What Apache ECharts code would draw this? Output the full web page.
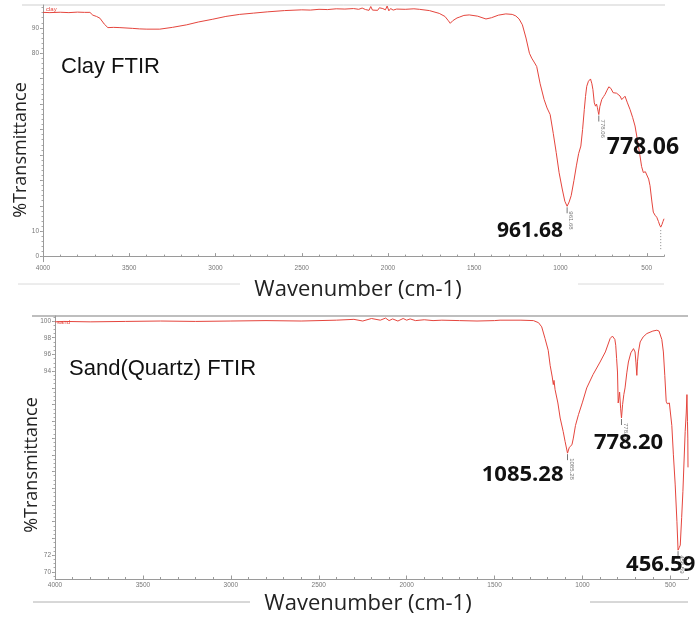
<!DOCTYPE html>
<html>
<head>
<meta charset="utf-8">
<title>FTIR spectra – Clay and Sand(Quartz)</title>
<script src="https://cdn.jsdelivr.net/npm/echarts@6/dist/echarts.min.js"></script>
<style>
  html, body { margin: 0; padding: 0; background: #ffffff; }
  #chart { width: 700px; height: 623px; }
</style>
</head>
<body>
<div id="chart"></div>
<script>
// ---- Clay spectrum (wavenumber in cm-1, %T) ----
const clayWavenumber = [
  4000, 3960, 3900, 3850, 3800, 3760, 3728, 3711, 3690, 3670, 3645, 3624, 3590, 3554, 3480, 3440, 3398, 3323,
  3250, 3167, 3100, 3016, 2940, 2860, 2780, 2700, 2600, 2500, 2450, 2400, 2350, 2300, 2250, 2200, 2170, 2150,
  2130, 2120, 2110, 2100, 2090, 2080, 2060, 2050, 2040, 2030, 2015, 2005, 1995, 1985, 1970, 1950, 1900, 1850,
  1818, 1760, 1703, 1670, 1650, 1639, 1625, 1600, 1587, 1560, 1529, 1480, 1432, 1400, 1360, 1317, 1280, 1259,
  1240, 1221, 1200, 1180, 1167, 1150, 1138, 1118, 1095, 1078, 1060, 1042, 1025, 1008, 990, 975, 961.68, 950,
  938, 922, 908, 895, 882, 872, 862, 855, 848, 838, 826, 818, 812, 804, 797, 791, 786, 782, 778.06, 772, 761,
  750, 742, 730, 720, 713, 708, 703, 695, 684, 675, 665, 655, 645, 636, 626, 612, 597, 582, 568, 553, 539, 530,
  520, 508, 497, 489, 481, 470, 462, 452, 442, 432, 425, 419, 412, 406, 400
];
const clayTransmittance = [
  96.1, 96.0, 96.15, 96.0, 96.2, 96.1, 96.1, 95.0, 94.5, 93.8, 91.5, 90.1, 90.2, 90.1, 89.8, 89.6, 89.5, 89.5,
  90.2, 91.2, 92.3, 93.4, 94.5, 95.3, 95.8, 96.3, 96.8, 97.1, 97.0, 97.3, 97.2, 97.5, 97.4, 97.6, 97.3, 97.8,
  97.2, 97.9, 96.9, 98.4, 97.0, 97.7, 96.9, 97.9, 97.3, 97.6, 97.1, 98.6, 96.7, 97.6, 97.0, 97.4, 97.3, 97.5,
  97.3, 96.8, 95.7, 94.5, 92.8, 91.8, 92.8, 93.9, 94.2, 94.9, 95.1, 94.6, 93.5, 94.0, 95.0, 95.5, 95.3, 94.7,
  93.5, 91.2, 86.0, 80.0, 78.1, 76.2, 74.8, 68.0, 61.8, 58.5, 55.9, 48.5, 41.0, 33.0, 26.6, 21.8, 19.8, 21.5,
  24.0, 30.0, 35.7, 40.5, 43.5, 50.0, 57.9, 63.0, 67.0, 69.0, 69.9, 68.0, 65.7, 60.5, 59.2, 60.0, 58.6, 57.2, 55.9, 59.0, 61.8,
  63.0, 63.8, 65.5, 66.8, 67.3, 66.2, 65.7, 64.5, 63.8, 64.3, 64.7, 63.2, 61.8, 62.5, 63.1, 60.5, 57.9, 54.8, 51.4, 45.5, 39.6, 35.5,
  33.1, 33.4, 33.1, 30.5, 27.9, 21.5, 17.5, 16.3, 15.5, 13.8, 12.4, 11.6, 12.6, 13.8, 14.9
];
const clayPeakWavenumber = [961.68, 778.06, 419];
const clayPeakTransmittance = [19.8, 55.9, 11.6];
const clayPeakText = ['961.68', '778.06', ''];

// ---- Sand (quartz) spectrum ----
const sandWavenumber = [
  4000, 3950, 3800, 3600, 3400, 3200, 3000, 2800, 2600, 2400, 2300, 2250, 2200, 2150, 2120, 2100, 2080, 2050,
  2020, 2000, 1980, 1950, 1900, 1850, 1800, 1700, 1600, 1500, 1469, 1350, 1279, 1250, 1232, 1213, 1195, 1184,
  1172, 1166, 1162, 1156, 1140, 1127, 1110, 1099, 1085.28, 1075, 1067, 1060, 1052, 1040, 1023, 1000, 976, 940,
  900, 870, 843, 830, 824, 816, 811, 806, 801, 797, 793, 789, 783, 778.20, 772, 765, 758, 748, 739, 725, 710,
  701, 696, 691, 687, 682, 672, 655, 634, 600, 577, 565, 558, 549, 540, 532, 524, 518, 511, 506, 501, 492, 483,
  473, 463, 456.59, 450, 444, 436, 429, 422, 416, 410, 406, 403, 401, 400
];
const sandTransmittance = [
  99.9, 99.95, 99.9, 99.95, 100.0, 99.95, 100.0, 100.05, 100.0, 100.1, 100.2, 100.0, 100.3, 100.1, 100.35, 100.05, 100.25, 100.0,
  100.3, 100.1, 100.25, 100.05, 100.15, 100.05, 100.1, 100.05, 100.0, 100.05, 100.1, 100.1, 100.05, 99.8, 99.3, 97.9, 96.5, 94.7,
  93.3, 92.4, 92.9, 91.8, 90.2, 88.4, 86.8, 85.6, 84.2, 84.9, 85.0, 85.2, 86.0, 87.5, 88.8, 90.3, 92.0, 93.6,
  95.1, 96.3, 97.9, 98.2, 98.3, 97.8, 97.1, 95.5, 93.9, 90.2, 90.8, 91.5, 89.5, 88.4, 90.0, 91.2, 92.0, 93.8, 95.1, 96.2, 96.7,
  96.3, 95.0, 93.5, 95.2, 96.3, 97.5, 98.1, 98.5, 98.8, 98.9, 98.8, 98.7, 97.8, 96.3, 93.5, 90.4, 90.1, 90.0, 90.2, 90.0, 87.5, 84.0,
  80.5, 76.0, 72.6, 72.9, 73.2, 76.5, 79.6, 83.5, 86.8, 89.0, 91.2, 88.0, 86.0, 82.5
];
const sandPeakWavenumber = [1085.28, 778.20, 456.59];
const sandPeakTransmittance = [84.2, 88.4, 72.6];
const sandPeakText = ['1085.28', '778.20', '456.59'];

// ---- Axis ticks and labels ----
const xTickLabels = [4000, 3500, 3000, 2500, 2000, 1500, 1000, 500];
const xMinorTicks = [];
for (let v = 400; v <= 4000; v += 100) xMinorTicks.push(v);
const clayYLabels = [0, 10, 80, 90];
const clayYMajor = [0, 10, 20, 30, 40, 50, 60, 70, 80, 90];
const clayYMinor = [];
for (let v = 0; v <= 98; v += 2) clayYMinor.push(v);
const sandYLabels = [70, 72, 94, 96, 98, 100];
const sandYMajor = [];
for (let v = 70; v <= 100; v += 2) sandYMajor.push(v);
const sandYMinor = [];
for (let v = 69.5; v <= 100.5; v += 0.5) sandYMinor.push(v);

// ---- Styling ----
const LINE_RED = '#e5453d';
const AXIS_GREY = '#9a9a9a';
const TICK_FONT = { fontSize: 6.5, color: '#777', fontFamily: 'Liberation Sans', formatter: (v) => String(v) };

// annotation placement for each marked peak (pixel offsets from the band minimum)
const clayPeakStyle = [
  { dx: -4, dy: 25, align: 'right', size: 21 },
  { dx: 8, dy: 33, align: 'left', size: 23 },
  { cut: true }
];
const sandPeakStyle = [
  { dx: -4, dy: 22, align: 'right', size: 22 },
  { dx: 7, dy: 25, align: 'center', size: 22 },
  { dx: -52, dy: 15, align: 'left', size: 22 }
];

function zip(a, b) { return a.map((v, i) => [v, b[i]]); }

function peakRenderer(texts, styles) {
  return function (params, api) {
    const i = params.dataIndex;
    const p = api.coord([api.value(0), api.value(1)]);
    const st = styles[i];
    const children = [];
    if (st.cut) {
      children.push({
        type: 'line',
        shape: { x1: p[0], y1: p[1] + 3, x2: p[0], y2: p[1] + 22 },
        style: { stroke: '#888', lineWidth: 1, lineDash: [1, 2] }
      });
      return { type: 'group', children: children };
    }
    children.push({
      type: 'line',
      shape: { x1: p[0], y1: p[1] + 1, x2: p[0], y2: p[1] + 7 },
      style: { stroke: '#777', lineWidth: 1 }
    });
    children.push({
      type: 'text',
      x: p[0] + 4, y: p[1] + 5,
      rotation: -Math.PI / 2,
      style: { text: texts[i], fontSize: 6, fill: '#777', fontFamily: 'Liberation Sans', align: 'left', verticalAlign: 'middle' }
    });
    children.push({
      type: 'text',
      x: p[0] + st.dx, y: p[1] + st.dy,
      style: {
        text: texts[i], fill: '#111', align: st.align, verticalAlign: 'middle',
        fontSize: st.size, fontWeight: 'bold', fontFamily: '"Open Sans", "Noto Sans", sans-serif'
      }
    });
    return { type: 'group', children: children };
  };
}

function xAxes(grid) {
  return [
    {
      gridIndex: grid, type: 'value', position: 'bottom', inverse: true, min: 400, max: 4000,
      axisLine: { show: true, lineStyle: { color: AXIS_GREY, width: 1 } },
      axisTick: { show: true, inside: true, length: 3.5, customValues: xTickLabels, lineStyle: { color: AXIS_GREY } },
      axisLabel: Object.assign({ customValues: xTickLabels, margin: 3 }, TICK_FONT),
      splitLine: { show: false }
    },
    {
      gridIndex: grid, type: 'value', position: 'bottom', inverse: true, min: 400, max: 4000,
      axisLine: { show: false },
      axisTick: { show: true, inside: true, length: 2, customValues: xMinorTicks, lineStyle: { color: AXIS_GREY } },
      axisLabel: { show: false },
      splitLine: { show: false }
    }
  ];
}

function yAxes(grid, min, max, labels, major, minor) {
  return [
    {
      gridIndex: grid, type: 'value', position: 'left', min: min, max: max,
      axisLine: { show: true, lineStyle: { color: AXIS_GREY, width: 1 } },
      axisTick: { show: true, length: 3, customValues: major, lineStyle: { color: AXIS_GREY } },
      axisLabel: Object.assign({ customValues: labels, margin: 4 }, TICK_FONT),
      splitLine: { show: false }
    },
    {
      gridIndex: grid, type: 'value', position: 'left', min: min, max: max,
      axisLine: { show: false },
      axisTick: { show: true, length: 1.5, customValues: minor, lineStyle: { color: '#aaa' } },
      axisLabel: { show: false },
      splitLine: { show: false }
    }
  ];
}

const chart = echarts.init(document.getElementById('chart'), null, { renderer: 'canvas' });

const nameFont = '"Open Sans", "Noto Sans", sans-serif';
const titleFont = '"Liberation Sans", Arial, sans-serif';

chart.setOption({
  animation: false,
  backgroundColor: '#ffffff',
  grid: [
    { left: 43, top: 5, width: 621, height: 256.7 },
    { left: 55, top: 316, width: 633, height: 263 }
  ],
  xAxis: xAxes(0).concat(xAxes(1)),
  yAxis: yAxes(0, -2, 99, clayYLabels, clayYMajor, clayYMinor)
    .concat(yAxes(1, 69.15, 100.6, sandYLabels, sandYMajor, sandYMinor)),
  series: [
    {
      name: 'Clay', type: 'line', xAxisIndex: 0, yAxisIndex: 0,
      data: zip(clayWavenumber, clayTransmittance),
      showSymbol: false, smooth: false,
      lineStyle: { color: LINE_RED, width: 1 }
    },
    {
      name: 'Clay peaks', type: 'custom', xAxisIndex: 0, yAxisIndex: 0, clip: false,
      data: zip(clayPeakWavenumber, clayPeakTransmittance),
      renderItem: peakRenderer(clayPeakText, clayPeakStyle), z: 5
    },
    {
      name: 'Sand', type: 'line', xAxisIndex: 2, yAxisIndex: 2,
      data: zip(sandWavenumber, sandTransmittance),
      showSymbol: false, smooth: false,
      lineStyle: { color: LINE_RED, width: 1 }
    },
    {
      name: 'Sand peaks', type: 'custom', xAxisIndex: 2, yAxisIndex: 2, clip: false,
      data: zip(sandPeakWavenumber, sandPeakTransmittance),
      renderItem: peakRenderer(sandPeakText, sandPeakStyle), z: 5
    }
  ],
  graphic: [
    // separators
    { type: 'line', shape: { x1: 22, y1: 5, x2: 665, y2: 5 }, style: { stroke: '#cfcfcf', lineWidth: 1 }, silent: true },
    { type: 'line', shape: { x1: 32, y1: 316, x2: 688, y2: 316 }, style: { stroke: '#a8a8a8', lineWidth: 1.5 }, silent: true },
    { type: 'line', shape: { x1: 18, y1: 284, x2: 240, y2: 284 }, style: { stroke: '#dadada', lineWidth: 1 }, silent: true },
    { type: 'line', shape: { x1: 578, y1: 284, x2: 664, y2: 284 }, style: { stroke: '#dadada', lineWidth: 1 }, silent: true },
    { type: 'line', shape: { x1: 33, y1: 602, x2: 250, y2: 602 }, style: { stroke: '#b0b0b0', lineWidth: 1 }, silent: true },
    { type: 'line', shape: { x1: 590, y1: 602, x2: 688, y2: 602 }, style: { stroke: '#b0b0b0', lineWidth: 1 }, silent: true },
    // trace names
    { type: 'text', x: 46, y: 9, style: { text: 'clay', fontSize: 6, fill: '#e5453d', fontFamily: titleFont, verticalAlign: 'middle' } },
    { type: 'text', x: 57, y: 322, style: { text: 'sand', fontSize: 6, fill: '#e5453d', fontFamily: titleFont, verticalAlign: 'middle' } },
    // panel titles
    { type: 'text', x: 61, y: 56, style: { text: 'Clay FTIR', fontSize: 22, fill: '#111', fontFamily: titleFont, verticalAlign: 'alphabetic' } },
    { type: 'text', x: 69, y: 358, style: { text: 'Sand(Quartz) FTIR', fontSize: 22, fill: '#111', fontFamily: titleFont, verticalAlign: 'alphabetic' } },
    // axis names
    { type: 'text', x: 20.5, y: 150, rotation: Math.PI / 2,
      style: { text: '%Transmittance', fontSize: 18, fill: '#222', fontFamily: nameFont, align: 'center', verticalAlign: 'middle' } },
    { type: 'text', x: 32, y: 465, rotation: Math.PI / 2,
      style: { text: '%Transmittance', fontSize: 18, fill: '#222', fontFamily: nameFont, align: 'center', verticalAlign: 'middle' } },
    { type: 'text', x: 358, y: 290,
      style: { text: 'Wavenumber (cm-1)', fontSize: 22, fill: '#222', fontFamily: nameFont, align: 'center', verticalAlign: 'middle' } },
    { type: 'text', x: 368, y: 604,
      style: { text: 'Wavenumber (cm-1)', fontSize: 22, fill: '#222', fontFamily: nameFont, align: 'center', verticalAlign: 'middle' } }
  ]
});
</script>
</body>
</html>
